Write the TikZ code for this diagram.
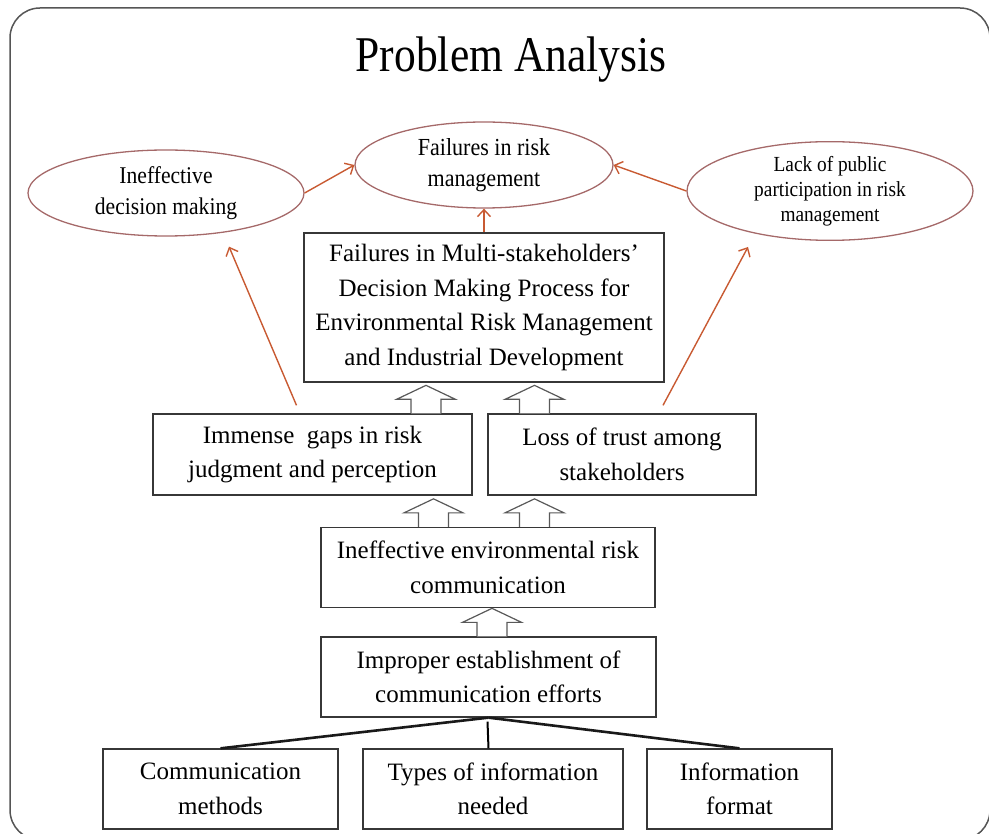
\documentclass[tikz,border=0pt]{standalone}
\usepackage{fontspec}
\setmainfont{Liberation Serif}
\newfontfamily\narrowfont[FakeStretch=0.9]{Liberation Serif}
\newfontfamily\titlefont[FakeStretch=0.87]{Liberation Serif}
\usetikzlibrary{arrows.meta,calc,shapes.geometric}

\definecolor{linkred}{RGB}{200,90,50}
\definecolor{ovalline}{RGB}{165,105,105}
\definecolor{boxline}{RGB}{55,55,55}
\definecolor{frameline}{RGB}{85,85,85}

% hollow up arrow, #1 = foot of the shaft
\newcommand{\hollowup}[1]{%
  \draw[hollow] (#1) ++(-15,0) -- ++(0,-14) -- ++(-14.5,0) -- ++(29.5,-14)
    -- ++(29.5,14) -- ++(-14.5,0) -- ++(0,14);}

\begin{document}
\begin{tikzpicture}[x=1pt, y=-1pt,
    causebox/.style={draw=boxline, line width=1.3pt, align=center, inner sep=0pt,
      font=\fontsize{25}{34.5}\selectfont},
    oval/.style={draw=ovalline, line width=1.3pt, ellipse, align=center, inner sep=0pt},
    hollow/.style={draw=black!65, line width=1.2pt, fill=white},
    link/.style={draw=linkred, line width=1.4pt, -{Straight Barb[length=7pt,width=13pt]}},
    branch/.style={draw=black!90, line width=2.6pt}]
  \useasboundingbox (0,0) rectangle (989,834);
  \draw[frameline, line width=1.5pt, rounded corners=30] (10,8) rectangle (990,840);

  \node[font=\titlefont\fontsize{50}{50}\selectfont] (title) at (511,60) {Problem Analysis};

  % consequences
  \node[oval, minimum width=276, minimum height=86,
    font=\narrowfont\fontsize{24}{31.5}\selectfont] (dec) at (166,193)
    {Ineffective\\decision making};
  \node[oval, minimum width=258, minimum height=86,
    font=\narrowfont\fontsize{24.5}{31}\selectfont] (fail) at (484,165)
    {Failures in risk\\management};
  \node[oval, minimum width=286, minimum height=98,
    font=\narrowfont\fontsize{21.5}{25}\selectfont] (lack) at (830,191)
    {Lack of public\\participation in risk\\management};

  % boxes
  \node[causebox, minimum width=360, minimum height=149] (multi) at (484,307.5)
    {Failures in Multi-stakeholders’\\Decision Making Process for\\Environmental Risk Management\\and Industrial Development};
  \node[causebox, minimum width=319, minimum height=81] (gaps) at (312.5,454.5)
    {Immense~ gaps in risk\\judgment and perception};
  \node[causebox, minimum width=268, minimum height=81] (trust) at (622,454.5)
    {Loss of trust among\\stakeholders};
  \node[causebox, minimum width=334, minimum height=80] (comm) at (488,567.5)
    {Ineffective environmental risk\\communication};
  \node[causebox, minimum width=335, minimum height=80] (effort) at (488.5,677)
    {Improper establishment of\\communication efforts};
  \node[causebox, minimum width=235, minimum height=80] (method) at (220.5,789)
    {Communication\\methods};
  \node[causebox, minimum width=260, minimum height=80] (types) at (493,789)
    {Types of information\\needed};
  \node[causebox, minimum width=185, minimum height=80] (format) at (739.5,789)
    {Information\\format};

  % red links
  \draw[link] (dec.east) -- (fail.west);
  \draw[link] (lack.west) -- (fail.east);
  \draw[link] (multi.north) -- (fail.south);
  \draw[link] ($(gaps.north)+(-16,-8)$) -- ($(dec.south)+(63,10)$);
  \draw[link] ($(trust.north)+(41,-8)$) -- ($(lack.south)+(-82,6)$);

  % hollow arrows
  \hollowup{$(gaps.north)+(113.5,0)$}
  \hollowup{$(trust.north)+(-87.5,0)$}
  \hollowup{$(comm.north)+(-54.5,0)$}
  \hollowup{$(comm.north)+(46.5,0)$}
  \hollowup{$(effort.north)+(3.5,0)$}

  % branches
  \draw[branch] (effort.south) -- (method.north);
  \draw[branch] (effort.south) -- (format.north);
  \draw[line width=2pt] ($(effort.south)+(-1,4)$) -- (types.north -| effort.south);
\end{tikzpicture}
\end{document}
